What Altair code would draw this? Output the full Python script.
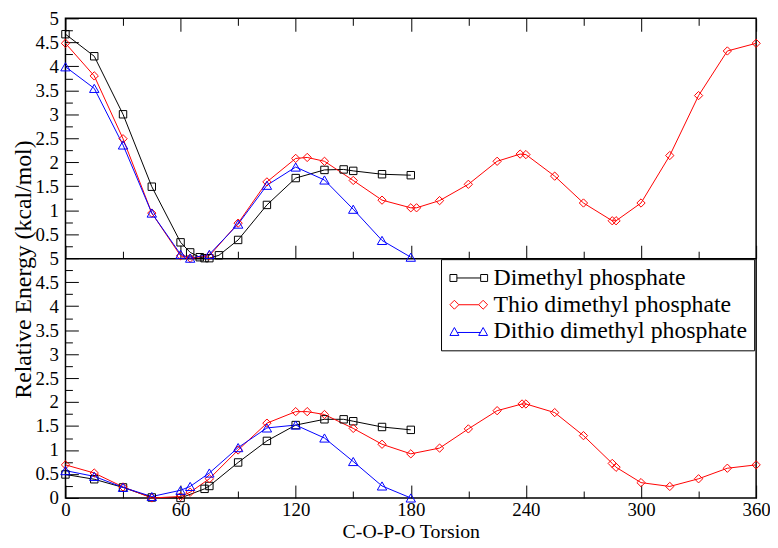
import altair as alt
import pandas as pd

FONT = "Liberation Serif, Times New Roman, Times, serif"
SERIES = ["Dimethyl phosphate", "Thio dimethyl phosphate", "Dithio dimethyl phosphate"]
COLORS = ["#000000", "#ff0000", "#0000ff"]

# ---- top panel (values in kcal/mol) ----
dmp_top_x = [0, 15, 30, 45, 60, 65, 70, 72.5, 75, 80, 90, 105, 120, 135, 145, 150, 165, 180]
dmp_top_y = [4.67, 4.21, 3.0, 1.49, 0.33, 0.12, 0.02, 0.0, 0.0, 0.06, 0.38, 1.11, 1.67, 1.84, 1.85, 1.82, 1.75, 1.73]
thio_top_x = [0, 15, 30, 45, 60, 65, 75, 90, 105, 120, 126, 135, 150, 165, 180, 183, 195, 210, 225, 237, 240,
              255, 270, 285, 287, 300, 315, 330, 345, 360]
thio_top_y = [4.48, 3.80, 2.49, 0.94, 0.05, 0.0, 0.05, 0.73, 1.59, 2.08, 2.10, 2.02, 1.62, 1.21, 1.05, 1.05, 1.20,
              1.54, 2.02, 2.17, 2.16, 1.71, 1.15, 0.78, 0.78, 1.15, 2.14, 3.39, 4.32, 4.48]
dithio_top_x = [0, 15, 30, 45, 60, 65, 75, 90, 105, 120, 135, 150, 165, 180]
dithio_top_y = [3.99, 3.54, 2.36, 0.94, 0.08, 0.0, 0.08, 0.71, 1.52, 1.90, 1.63, 1.02, 0.37, 0.02]

# ---- bottom panel ----
dmp_bot_x = [0, 15, 30, 45, 60, 72.5, 75, 90, 105, 120, 135, 145, 150, 165, 180]
dmp_bot_y = [0.49, 0.39, 0.22, 0.01, 0.0, 0.19, 0.25, 0.74, 1.19, 1.52, 1.64, 1.64, 1.60, 1.48, 1.42]
thio_bot_x = [0, 15, 30, 45, 60, 65, 75, 90, 105, 120, 126, 135, 150, 165, 180, 195, 210, 225, 238, 240,
              255, 270, 285, 287, 300, 315, 330, 345, 360]
thio_bot_y = [0.69, 0.52, 0.23, 0.0, 0.03, 0.12, 0.40, 1.00, 1.56, 1.80, 1.80, 1.74, 1.45, 1.12, 0.92, 1.04,
              1.44, 1.82, 1.96, 1.96, 1.78, 1.30, 0.72, 0.64, 0.32, 0.24, 0.40, 0.62, 0.69]
dithio_bot_x = [0, 15, 30, 45, 60, 65, 75, 90, 105, 120, 135, 150, 165, 180]
dithio_bot_y = [0.57, 0.45, 0.22, 0.03, 0.16, 0.24, 0.52, 1.05, 1.46, 1.52, 1.25, 0.76, 0.25, 0.0]

X_MAJOR = [0, 60, 120, 180, 240, 300, 360]
X_MINOR = [30, 90, 150, 210, 270, 330]
Y_MAJOR = [i * 0.5 for i in range(21)]
Y_MINOR = [0.25 + i * 0.5 for i in range(20)]

rows = []
def add(panel, series, xs, ys, shift):
    for xv, yv in zip(xs, ys):
        rows.append({"panel": panel, "series": series, "x": xv, "y": yv, "yy": yv + shift})

add("top", SERIES[0], dmp_top_x, dmp_top_y, 5)
add("top", SERIES[1], thio_top_x, thio_top_y, 5)
add("top", SERIES[2], dithio_top_x, dithio_top_y, 5)
add("bottom", SERIES[0], dmp_bot_x, dmp_bot_y, 0)
add("bottom", SERIES[1], thio_bot_x, thio_bot_y, 0)
add("bottom", SERIES[2], dithio_bot_x, dithio_bot_y, 0)
df = pd.DataFrame(rows)

W = 697
H = 484

xscale = alt.Scale(domain=[0, 360], nice=False, zero=False)
yscale = alt.Scale(domain=[0, 10], nice=False, zero=False)
color_scale = alt.Scale(domain=SERIES, range=COLORS)

# legend glyphs: a line with a marker at each end (unit = 10 px at symbolSize 400)
SQ = ("M-0.3,0L2.1,0"
      "M-1,-0.35L-0.3,-0.35L-0.3,0.35L-1,0.35Z"
      "M2.1,-0.35L2.8,-0.35L2.8,0.35L2.1,0.35Z")
DI = ("M-0.1,0L1.9,0"
      "M-1,0L-0.55,-0.45L-0.1,0L-0.55,0.45Z"
      "M1.9,0L2.35,-0.45L2.8,0L2.35,0.45Z")
TR = ("M-0.27,0.1L2.07,0.1"
      "M-1,0.4L-0.55,-0.4L-0.1,0.4Z"
      "M1.9,0.4L2.35,-0.4L2.8,0.4Z")
shape_scale = alt.Scale(domain=SERIES, range=[SQ, DI, TR])


def tick_axis(orient, values, size, offset):
    return alt.Axis(orient=orient, values=values, ticks=True, tickSize=size, offset=offset,
                    labels=False, domain=False, grid=False, title=None,
                    tickColor="black", tickWidth=1)


x_label_axis = alt.Axis(orient="bottom", values=X_MAJOR, ticks=False, tickSize=0, labelPadding=3,
                        labelFontSize=19, labelFont=FONT, labelColor="black", labelFlush=False,
                        labelOverlap=False, domain=False, grid=False, format="d",
                        title="C-O-P-O Torsion", titleFont=FONT, titleFontSize=20,
                        titleFontWeight="normal", titleColor="black", titleY=34,
                        titleBaseline="middle")
y_label_axis = alt.Axis(orient="left", values=Y_MAJOR, ticks=False, tickSize=0, labelPadding=7,
                        labelFontSize=19, labelFont=FONT, labelColor="black", labelFlush=False,
                        labelOverlap=False, domain=False, grid=False,
                        labelExpr="datum.value > 5 ? format(datum.value - 5, '') : format(datum.value, '')",
                        title="Relative Energy (kcal/mol)", titleFont=FONT, titleFontSize=24,
                        titleFontWeight="normal", titleColor="black", titleX=-35, titleY=253,
                        titleAngle=270, titleAlign="center", titleBaseline="alphabetic")

base = alt.Chart(df)

line_layers = []
for i, s in enumerate(SERIES):
    xa = x_label_axis if i == 0 else None
    ya = y_label_axis if i == 0 else None
    line_layers.append(
        base.transform_filter(alt.datum.series == s)
        .mark_line(strokeWidth=1, color=COLORS[i])
        .encode(
            x=alt.X("x:Q", scale=xscale, axis=xa),
            y=alt.Y("yy:Q", scale=yscale, axis=ya),
            detail="panel:N",
        )
    )

shapes = ["square", "diamond", "triangle-up"]
sizes = [56, 70, 90]
point_layers = []
for i, s in enumerate(SERIES):
    if i == 0:
        xa = tick_axis("bottom", X_MAJOR, 13, -13)
        ya = tick_axis("left", Y_MAJOR, 13, -13)
    elif i == 1:
        xa = tick_axis("bottom", X_MINOR, 7, -7)
        ya = tick_axis("left", Y_MINOR, 7, -7)
    else:
        xa = tick_axis("top", X_MAJOR, 13, -13)
        ya = None
    point_layers.append(
        base.transform_filter(alt.datum.series == s)
        .mark_point(shape=shapes[i], size=sizes[i], filled=False, color=COLORS[i], strokeWidth=1, opacity=1)
        .encode(x=alt.X("x:Q", scale=xscale, axis=xa), y=alt.Y("yy:Q", scale=yscale, axis=ya))
    )

legend = alt.Legend(title=None, orient="none", legendX=379, legendY=243, labelFont=FONT,
                    labelFontSize=24, labelColor="black", labelLimit=0, symbolSize=400,
                    symbolStrokeWidth=1, symbolOpacity=1, fillColor="white", strokeColor="black",
                    padding=7, rowPadding=3, labelOffset=22, cornerRadius=0)

legend_layer = base.mark_point(filled=False, size=400, strokeWidth=1, opacity=0).encode(
    x=alt.X("x:Q", scale=xscale, axis=tick_axis("top", X_MINOR, 7, -7)),
    y=alt.Y("yy:Q", scale=yscale, axis=None),
    color=alt.Color("series:N", scale=color_scale, legend=legend),
    shape=alt.Shape("series:N", scale=shape_scale, legend=legend),
)

extra_axes = []
for ax in [tick_axis("bottom", X_MAJOR, 13, -(H / 2 + 13)),
           tick_axis("bottom", X_MINOR, 7, -(H / 2 + 7)),
           alt.Axis(orient="bottom", offset=-(H / 2), ticks=False, labels=False, domain=True,
                    domainColor="black", domainWidth=1.5, grid=False, title=None)]:
    extra_axes.append(
        base.transform_filter("false").mark_point(opacity=0).encode(
            x=alt.X("x:Q", scale=xscale, axis=ax),
            y=alt.Y("yy:Q", scale=yscale, axis=None),
        )
    )

chart = alt.layer(*line_layers, *point_layers, legend_layer, *extra_axes).resolve_axis(
    x="independent", y="independent"
).properties(
    width=W, height=H,
    autosize=alt.AutoSizeParams(type="none"),
    padding={"left": 58, "top": 8, "right": 14, "bottom": 44},
    background="white",
).configure_view(stroke="black", strokeWidth=1.5)

chart.save("out.html", embed_options={"renderer": "svg", "actions": False})
